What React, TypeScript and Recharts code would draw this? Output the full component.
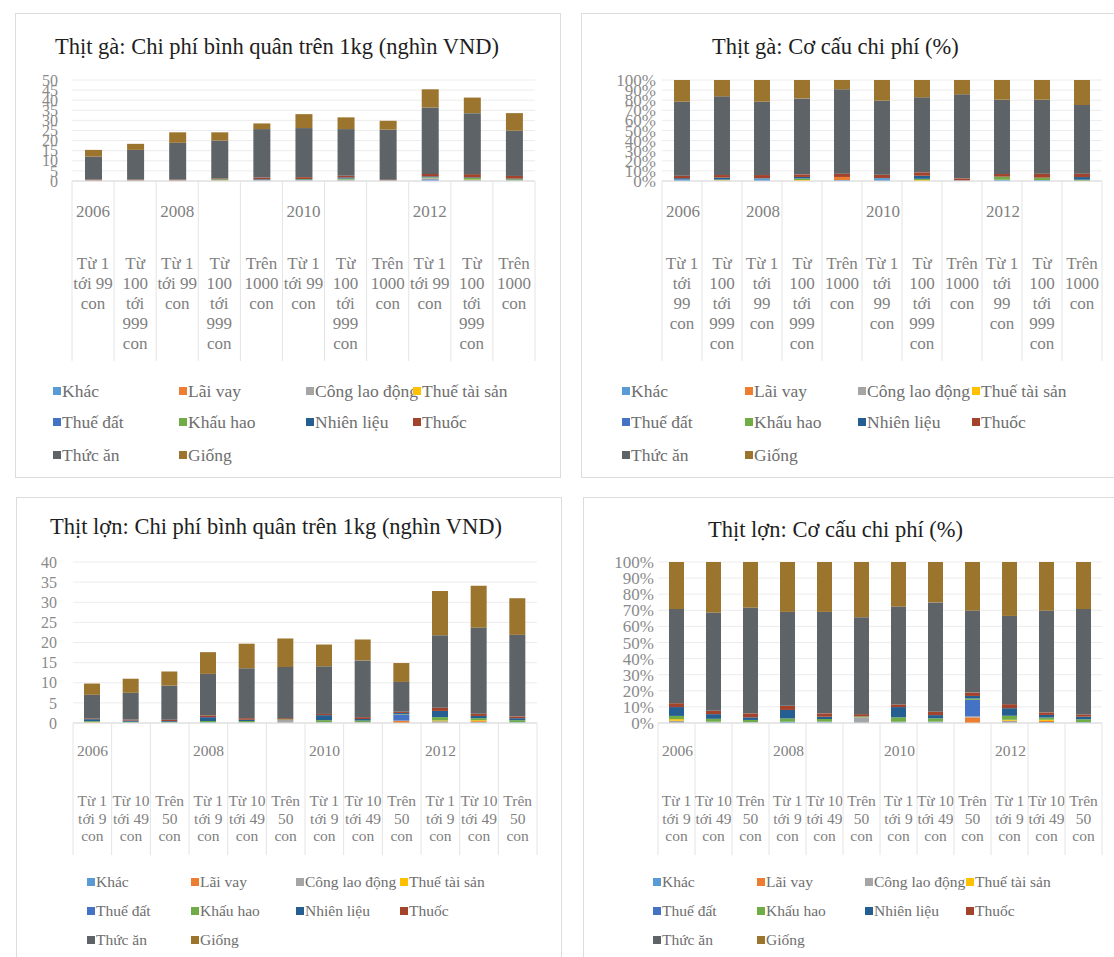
import React from 'react';
import { BarChart, Bar, XAxis, YAxis, CartesianGrid } from 'recharts';

const serif = "'Liberation Serif', 'Times New Roman', serif";
const tickGray = '#7f7f7f';

const costNames = ['Khác', 'Lãi vay', 'Công lao động', 'Thuế tài sản', 'Thuế đất', 'Khấu hao', 'Nhiên liệu', 'Thuốc', 'Thức ăn', 'Giống'];
const costColors = ['#5b9bd5', '#ed7d31', '#a5a5a5', '#ffc000', '#4472c4', '#70ad47', '#255e91', '#a3432b', '#5e6367', '#9b742e'];

// Thịt gà
const chickenYears = ['2006', '2006', '2008', '2008', '2008', '2010', '2010', '2010', '2012', '2012', '2012'];
const chickenSizes = [
  'Từ 1 tới 99 con', 'Từ 100 tới 999 con',
  'Từ 1 tới 99 con', 'Từ 100 tới 999 con', 'Trên 1000 con',
  'Từ 1 tới 99 con', 'Từ 100 tới 999 con', 'Trên 1000 con',
  'Từ 1 tới 99 con', 'Từ 100 tới 999 con', 'Trên 1000 con',
];

// nghìn VND / kg, one row per cost item (same order as costNames)
const chickenCost = [
  [0.1, 0.1, 0.1, 0.1, 0.2, 0.3, 0.3, 0.1, 0.9, 0.3, 0.2],
  [0.1, 0.1, 0.1, 0.1, 0.1, 0.1, 0.1, 0.1, 0.2, 0.2, 0.1],
  [0.1, 0, 0, 0.1, 0.1, 0.1, 0.1, 0.1, 0.2, 0.1, 0.1],
  [0, 0, 0, 0.1, 0, 0, 0.1, 0, 0.1, 0.1, 0],
  [0, 0, 0, 0, 0.1, 0, 0.1, 0, 0.2, 0, 0],
  [0, 0.1, 0.1, 0.4, 0.1, 0.3, 0.5, 0, 0.3, 0.8, 0.5],
  [0, 0, 0, 0.1, 0.3, 0.2, 0.6, 0, 0.4, 0.3, 0.3],
  [0.4, 0.4, 0.4, 0.4, 0.8, 0.9, 0.8, 0.3, 1.2, 1.6, 1.3],
  [11.4, 14.7, 18.2, 18.7, 24.0, 24.3, 23.1, 24.8, 32.9, 30.2, 22.4],
  [3.3, 3.0, 5.2, 4.1, 2.8, 6.9, 5.8, 4.4, 9.0, 7.7, 8.7],
];

// % structure
const chickenShare = [
  [1.5, 0.3, 2.5, 0, 1.0, 2.6, 0, 0.4, 1.3, 1.0, 0],
  [0, 0, 0, 0, 3.0, 0, 0, 0, 0, 0, 0],
  [0, 0, 0, 0, 0, 0, 0, 0, 0, 0, 0],
  [0, 0.6, 0, 1.0, 0, 0, 1.0, 0, 0, 0, 0],
  [0, 0, 0, 0, 0, 0, 0, 0, 0, 0, 0],
  [0, 0.5, 0, 1.5, 0, 0, 1.2, 0, 3.0, 2.3, 1.3],
  [1.3, 2.0, 0.3, 1.5, 0, 0.4, 3.0, 0, 0, 0, 2.6],
  [2.5, 2.5, 3.1, 2.6, 3.3, 3.3, 3.4, 2.2, 2.6, 4.0, 3.4],
  [73.2, 77.9, 72.6, 75.2, 83.5, 73.2, 74.2, 83.2, 73.6, 73.2, 67.9],
  [21.5, 16.2, 21.5, 18.2, 9.2, 20.5, 17.2, 14.2, 19.5, 19.5, 24.8],
];

// Thịt lợn
const porkYears = ['2006', '2006', '2006', '2008', '2008', '2008', '2010', '2010', '2010', '2012', '2012', '2012'];
const porkSizes = [
  'Từ 1 tới 9 con', 'Từ 10 tới 49 con', 'Trên 50 con',
  'Từ 1 tới 9 con', 'Từ 10 tới 49 con', 'Trên 50 con',
  'Từ 1 tới 9 con', 'Từ 10 tới 49 con', 'Trên 50 con',
  'Từ 1 tới 9 con', 'Từ 10 tới 49 con', 'Trên 50 con',
];

const porkCost = [
  [0, 0.05, 0.05, 0.15, 0.1, 0.1, 0.1, 0.1, 0, 0, 0.2, 0.15],
  [0, 0, 0, 0, 0, 0, 0, 0, 0.5, 0, 0.25, 0],
  [0.15, 0.05, 0.05, 0, 0.1, 0.65, 0.1, 0.1, 0.1, 0.45, 0, 0],
  [0.1, 0, 0, 0, 0, 0, 0, 0, 0, 0.2, 0.25, 0],
  [0, 0, 0, 0, 0, 0, 0, 0, 1.55, 0, 0, 0],
  [0.2, 0.2, 0.2, 0.35, 0.3, 0.15, 0.5, 0.4, 0.1, 0.8, 0.5, 0.55],
  [0.5, 0.3, 0.2, 0.95, 0.3, 0, 1.25, 0.4, 0.25, 1.55, 0.55, 0.5],
  [0.2, 0.25, 0.3, 0.45, 0.4, 0.3, 0.3, 0.45, 0.3, 0.8, 0.55, 0.45],
  [5.85, 6.65, 8.5, 10.3, 12.4, 12.7, 11.85, 14.1, 7.4, 18.0, 21.4, 20.25],
  [2.8, 3.5, 3.5, 5.4, 6.1, 7.1, 5.4, 5.2, 4.7, 11.0, 10.4, 9.1],
];

const porkShare = [
  [0, 0.4, 0.3, 0.8, 0.5, 0.4, 0.4, 0.5, 0, 0, 0.6, 0.5],
  [0, 0, 0, 0, 0, 0, 0, 0, 3.5, 0, 0.7, 0],
  [1.4, 0.4, 0.2, 0, 0.4, 3.1, 0.4, 0.4, 0.6, 1.4, 0, 0],
  [1.0, 0, 0, 0, 0, 0, 0, 0, 0, 0.6, 0.7, 0],
  [0, 0, 0, 0, 0, 0, 0, 0, 10.3, 0, 0, 0],
  [2.0, 1.8, 1.4, 2.0, 1.6, 0.6, 2.7, 2.0, 0.8, 2.5, 1.4, 1.8],
  [5.5, 2.9, 1.6, 5.3, 1.4, 0, 6.4, 2.0, 1.6, 4.7, 1.6, 1.6],
  [2.4, 2.1, 2.5, 2.6, 2.1, 1.4, 1.6, 2.1, 2.1, 2.5, 1.6, 1.4],
  [58.5, 61.0, 65.7, 58.3, 63.0, 60.2, 60.8, 67.9, 50.9, 54.8, 63.2, 65.5],
  [29.2, 31.4, 28.3, 31.0, 31.0, 34.3, 27.7, 25.1, 30.2, 33.5, 30.2, 29.2],
];

const chickenTicks = [0, 5, 10, 15, 20, 25, 30, 35, 40, 45, 50];
const porkTicks = [0, 5, 10, 15, 20, 25, 30, 35, 40];
const shareTicks = [0, 0.1, 0.2, 0.3, 0.4, 0.5, 0.6, 0.7, 0.8, 0.9, 1];

// how the category names break into lines under each chart
const wrapWide: Record<string, string[]> = {
  'Từ 1 tới 99 con': ['Từ 1', 'tới 99', 'con'],
  'Từ 100 tới 999 con': ['Từ', '100', 'tới', '999', 'con'],
  'Trên 1000 con': ['Trên', '1000', 'con'],
};
const wrapNarrow: Record<string, string[]> = {
  'Từ 1 tới 99 con': ['Từ 1', 'tới', '99', 'con'],
  'Từ 100 tới 999 con': ['Từ', '100', 'tới', '999', 'con'],
  'Trên 1000 con': ['Trên', '1000', 'con'],
};
const wrapPork: Record<string, string[]> = {
  'Từ 1 tới 9 con': ['Từ 1', 'tới 9', 'con'],
  'Từ 10 tới 49 con': ['Từ 10', 'tới 49', 'con'],
  'Trên 50 con': ['Trên', '50', 'con'],
};

type Layout = {
  left: number; top: number; width: number; height: number;
  plotLeft: number; plotRight: number; plotTop: number; plotBottom: number;
  titleX: number; titleY: number;
  yGap: number; yFont: number; barSize: number;
  tickFont: number; yearDy: number; catDy: number; lineH: number; sepLen: number;
  legendX: number[]; legendY: number[]; legendFont: number;
};

const topLeft: Layout = {
  left: 15, top: 13, width: 546, height: 465,
  plotLeft: 72, plotRight: 535, plotTop: 80, plotBottom: 181,
  titleX: 55, titleY: 47, yGap: 14, yFont: 16, barSize: 17,
  tickFont: 17, yearDy: 36, catDy: 88, lineH: 20, sepLen: 180,
  legendX: [53, 179, 306, 413], legendY: [391, 422, 455], legendFont: 17.5,
};
const topRight: Layout = {
  left: 581, top: 13, width: 540, height: 465,
  plotLeft: 662, plotRight: 1102, plotTop: 80, plotBottom: 181,
  titleX: 712, titleY: 47, yGap: 6, yFont: 17, barSize: 16,
  tickFont: 17, yearDy: 36, catDy: 88, lineH: 20, sepLen: 180,
  legendX: [622, 745, 858, 972], legendY: [391, 422, 455], legendFont: 17.5,
};
const bottomLeft: Layout = {
  left: 16, top: 497, width: 546, height: 470,
  plotLeft: 73, plotRight: 537, plotTop: 562, plotBottom: 723,
  titleX: 50, titleY: 527, yGap: 16, yFont: 16, barSize: 16,
  tickFont: 15.5, yearDy: 33, catDy: 83, lineH: 17.5, sepLen: 132,
  legendX: [87, 191, 296, 400], legendY: [882, 911, 940], legendFont: 15.5,
};
const bottomRight: Layout = {
  left: 583, top: 497, width: 540, height: 470,
  plotLeft: 658, plotRight: 1102, plotTop: 562, plotBottom: 723,
  titleX: 708, titleY: 530, yGap: 4, yFont: 17, barSize: 15,
  tickFont: 15.5, yearDy: 33, catDy: 83, lineH: 17.5, sepLen: 132,
  legendX: [653, 757, 865, 966], legendY: [882, 911, 940], legendFont: 15.5,
};

interface PanelProps {
  L: Layout;
  title: string;
  years: string[];
  sizes: string[];
  wrap: Record<string, string[]>;
  values: number[][];
  yTicks: number[];
  percent?: boolean;
}

const CostPanel: React.FC<PanelProps> = ({ L, title, years, sizes, wrap, values, yTicks, percent }) => {
  const rows = sizes.map((size, i) => {
    const row: Record<string, string | number> = { key: `${years[i]} ${size} ${i}` };
    values.forEach((serie, s) => { row['s' + s] = serie[i]; });
    return row;
  });
  const band = (L.plotRight - L.plotLeft) / sizes.length;

  const renderTick = (props: any) => {
    const { x, y, index } = props;
    const left = x - band / 2;
    const lines = wrap[sizes[index]] || [sizes[index]];
    const groupStart = index === 0 || years[index] !== years[index - 1];
    return (
      <g>
        <line x1={left} x2={left} y1={y} y2={y + L.sepLen} stroke="#e4e4e4" />
        {index === sizes.length - 1 && (
          <line x1={left + band} x2={left + band} y1={y} y2={y + L.sepLen} stroke="#e4e4e4" />
        )}
        {groupStart && (
          <text x={left + 4} y={y + L.yearDy} fontSize={L.tickFont} fill={tickGray} fontFamily={serif}>
            {years[index]}
          </text>
        )}
        <text textAnchor="middle" fontSize={L.tickFont} fill={tickGray} fontFamily={serif}>
          {lines.map((t, k) => (
            <tspan key={k} x={x} y={y + L.catDy + k * L.lineH}>{t}</tspan>
          ))}
        </text>
      </g>
    );
  };

  return (
    <>
      <div style={{ position: 'absolute', left: L.left, top: L.top, width: L.width, height: L.height, border: '1px solid #dcdcdc', boxSizing: 'border-box', background: '#fff' }} />
      <div style={{ position: 'absolute', left: L.left, top: L.top }}>
        <BarChart
          width={L.width}
          height={L.height}
          data={rows}
          stackOffset={percent ? 'expand' : 'none'}
          barSize={L.barSize}
          margin={{ top: L.plotTop - L.top, right: L.left + L.width - L.plotRight, left: 0, bottom: 0 }}
        >
          <CartesianGrid vertical={false} stroke="#ececec" />
          <XAxis
            dataKey="key"
            interval={0}
            height={L.top + L.height - L.plotBottom}
            tickLine={false}
            tickSize={0}
            tickMargin={0}
            axisLine={{ stroke: '#dadada' }}
            tick={renderTick}
          />
          <YAxis
            width={L.plotLeft - L.left}
            domain={[0, yTicks[yTicks.length - 1]]}
            ticks={yTicks}
            interval={0}
            axisLine={false}
            tickLine={false}
            tickSize={0}
            tickMargin={L.yGap}
            tick={{ fontSize: L.yFont, fill: '#8a8a8a', fontFamily: serif }}
            tickFormatter={(v: number) => (percent ? `${Math.round(v * 100)}%` : `${v}`)}
          />
          {values.map((_, s) => (
            <Bar key={s} dataKey={'s' + s} stackId="a" fill={costColors[s]} isAnimationActive={false} />
          ))}
        </BarChart>
      </div>
      <div style={{ position: 'absolute', left: L.titleX, top: L.titleY - 13, fontFamily: serif, fontSize: 22.5, lineHeight: '26px', color: '#1e1e1e', whiteSpace: 'nowrap' }}>
        {title}
      </div>
      {costNames.map((name, i) => {
        const col = i % 4;
        const row = Math.floor(i / 4);
        const lh = Math.round(L.legendFont * 1.3);
        return (
          <div
            key={name}
            style={{
              position: 'absolute', left: L.legendX[col], top: L.legendY[row] - lh / 2, height: lh,
              display: 'flex', alignItems: 'center', whiteSpace: 'nowrap',
              fontFamily: serif, fontSize: L.legendFont, color: '#6e6e6e',
            }}
          >
            <span style={{ display: 'inline-block', width: 8, height: 8, background: costColors[i], marginRight: 1 }} />
            {name}
          </div>
        );
      })}
    </>
  );
};

const App: React.FC = () => (
  <div style={{ position: 'absolute', left: 0, top: 0, width: 1114, height: 957, overflow: 'hidden', background: '#fff' }}>
    <CostPanel L={topLeft} title="Thịt gà: Chi phí bình quân trên 1kg (nghìn VND)" years={chickenYears} sizes={chickenSizes} wrap={wrapWide} values={chickenCost} yTicks={chickenTicks} />
    <CostPanel L={topRight} title="Thịt gà: Cơ cấu chi phí (%)" years={chickenYears} sizes={chickenSizes} wrap={wrapNarrow} values={chickenShare} yTicks={shareTicks} percent />
    <CostPanel L={bottomLeft} title="Thịt lợn: Chi phí bình quân trên 1kg (nghìn VND)" years={porkYears} sizes={porkSizes} wrap={wrapPork} values={porkCost} yTicks={porkTicks} />
    <CostPanel L={bottomRight} title="Thịt lợn: Cơ cấu chi phí (%)" years={porkYears} sizes={porkSizes} wrap={wrapPork} values={porkShare} yTicks={shareTicks} percent />
  </div>
);

export default App;
